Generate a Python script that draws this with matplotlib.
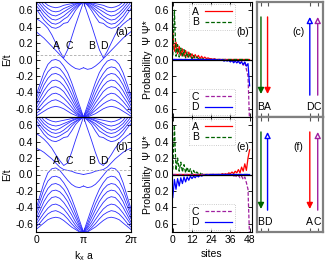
import numpy as np
import matplotlib
matplotlib.use('Agg')
import matplotlib.pyplot as plt
from matplotlib.ticker import MultipleLocator, FixedLocator, FuncFormatter

plt.rcParams['font.family'] = ['Liberation Sans', 'DejaVu Sans']
plt.rcParams['font.size'] = 7.5

# k_x a / pi on half of the zone (band structure is mirror symmetric about pi)
k_half = [0, 1/12, 2/12, 3/12, 4/12, 5/12, 6/12, 7/12, 8/12, 9/12, 10/12, 11/12, 1]

# panel (a) bands, E/t
bands_a = [
    [0.62, 0.55, 0.48, 0.43, 0.39, 0.38, 0.40, 0.44, 0.45, 0.52, 0.60, 0.66, 0.70],
    [0.66, 0.60, 0.53, 0.48, 0.44, 0.43, 0.45, 0.49, 0.52, 0.58, 0.63, 0.67, 0.70],
    [0.70, 0.64, 0.58, 0.53, 0.49, 0.48, 0.50, 0.53, 0.57, 0.61, 0.65, 0.68, 0.70],
    [0.74, 0.68, 0.62, 0.57, 0.54, 0.53, 0.55, 0.58, 0.61, 0.64, 0.67, 0.69, 0.70],
    [0.78, 0.72, 0.66, 0.62, 0.59, 0.58, 0.59, 0.62, 0.64, 0.66, 0.68, 0.69, 0.70],
    [0.82, 0.76, 0.70, 0.66, 0.64, 0.63, 0.64, 0.66, 0.67, 0.68, 0.69, 0.70, 0.70],
    [0.34, 0.30, 0.26, 0.21, 0.16, 0.11, 0.06, 0.01, -0.04, -0.08, -0.11, -0.12, -0.10],
    [0.50, 0.47, 0.43, 0.38, 0.30, 0.20, 0.10, 0.02, 0.12, 0.27, 0.42, 0.56, 0.70],
    [-0.44, -0.30, -0.16, -0.06, -0.01, 0.00, -0.02, -0.08, -0.16, -0.28, -0.42, -0.56, -0.70],
    [-0.48, -0.36, -0.24, -0.15, -0.10, -0.09, -0.11, -0.17, -0.25, -0.35, -0.48, -0.60, -0.70],
    [-0.52, -0.42, -0.31, -0.23, -0.18, -0.17, -0.19, -0.24, -0.32, -0.42, -0.53, -0.63, -0.70],
    [-0.56, -0.47, -0.38, -0.31, -0.26, -0.25, -0.27, -0.32, -0.39, -0.48, -0.57, -0.65, -0.70],
    [-0.60, -0.52, -0.45, -0.38, -0.34, -0.33, -0.35, -0.39, -0.46, -0.53, -0.61, -0.67, -0.70],
    [-0.63, -0.57, -0.51, -0.46, -0.42, -0.41, -0.43, -0.47, -0.52, -0.58, -0.64, -0.68, -0.70],
    [-0.66, -0.62, -0.57, -0.53, -0.50, -0.49, -0.51, -0.54, -0.58, -0.62, -0.66, -0.69, -0.70],
    [-0.69, -0.66, -0.63, -0.60, -0.58, -0.57, -0.58, -0.60, -0.63, -0.66, -0.68, -0.70, -0.70],
]

# panel (d) bands, E/t
bands_d = [
    [0.62, 0.56, 0.49, 0.44, 0.41, 0.40, 0.42, 0.45, 0.46, 0.53, 0.61, 0.66, 0.70],
    [0.66, 0.60, 0.54, 0.49, 0.46, 0.45, 0.47, 0.50, 0.53, 0.59, 0.64, 0.67, 0.70],
    [0.70, 0.64, 0.58, 0.54, 0.51, 0.50, 0.51, 0.54, 0.58, 0.62, 0.65, 0.68, 0.70],
    [0.74, 0.68, 0.62, 0.58, 0.55, 0.54, 0.56, 0.59, 0.62, 0.65, 0.67, 0.69, 0.70],
    [0.78, 0.72, 0.66, 0.62, 0.60, 0.59, 0.60, 0.62, 0.64, 0.66, 0.68, 0.69, 0.70],
    [0.82, 0.76, 0.70, 0.67, 0.65, 0.64, 0.65, 0.66, 0.67, 0.68, 0.69, 0.70, 0.70],
    [0.50, 0.47, 0.43, 0.38, 0.32, 0.24, 0.17, 0.11, 0.14, 0.27, 0.42, 0.56, 0.70],
    [0.32, 0.30, 0.27, 0.23, 0.19, 0.14, 0.09, 0.06, 0.05, 0.04, 0.02, 0.01, 0.00],
    [-0.42, -0.26, -0.10, 0.02, 0.07, 0.08, 0.05, -0.01, -0.07, -0.12, -0.15, -0.16, -0.14],
    [-0.46, -0.32, -0.18, -0.08, -0.03, -0.02, -0.04, -0.10, -0.18, -0.29, -0.42, -0.56, -0.70],
    [-0.50, -0.38, -0.26, -0.17, -0.12, -0.11, -0.13, -0.18, -0.26, -0.36, -0.48, -0.60, -0.70],
    [-0.54, -0.44, -0.33, -0.25, -0.20, -0.19, -0.21, -0.26, -0.33, -0.43, -0.53, -0.63, -0.70],
    [-0.58, -0.49, -0.40, -0.33, -0.28, -0.27, -0.29, -0.34, -0.41, -0.49, -0.58, -0.65, -0.70],
    [-0.61, -0.54, -0.47, -0.41, -0.37, -0.36, -0.38, -0.42, -0.48, -0.55, -0.62, -0.67, -0.70],
    [-0.64, -0.59, -0.53, -0.48, -0.45, -0.44, -0.46, -0.49, -0.54, -0.60, -0.65, -0.69, -0.70],
    [-0.67, -0.63, -0.59, -0.55, -0.53, -0.52, -0.53, -0.56, -0.60, -0.64, -0.67, -0.70, -0.70],
]

fermi = 0.05

# probability |psi|^2 on 49 sites (lower states drawn downward)
sites = list(range(49))
b_A = [0.33, 0.10, 0.21, 0.07, 0.16, 0.05, 0.13, 0.04, 0.11, 0.03, 0.09, 0.03, 0.07, 0.02, 0.06, 0.02,
       0.05, 0.01, 0.04, 0.01, 0.03, 0.01, 0.02, 0.01, 0.01, 0.0, 0.01, 0.0, 0.0, 0.0, 0.0, 0.0, 0.0,
       0.0, 0.0, 0.0, 0.0, 0.0, 0.0, 0.0, 0.0, 0.0, 0.0, 0.0, 0.0, 0.0, 0.0, 0.0, 0.0]
b_B = [0.05, 0.60, 0.04, 0.18, 0.03, 0.14, 0.03, 0.12, 0.02, 0.09, 0.02, 0.07, 0.01, 0.05, 0.01, 0.03,
       0.01, 0.02, 0.0, 0.01, 0.0, 0.0, 0.0, 0.0, 0.0, 0.0, 0.0, 0.0, 0.0, 0.0, 0.0, 0.0, 0.0,
       0.0, 0.0, 0.0, 0.0, 0.0, 0.0, 0.0, 0.0, 0.0, 0.0, 0.0, 0.0, 0.0, 0.0, 0.0, 0.0]
b_C = [0.0, 0.0, 0.0, 0.0, 0.0, 0.0, 0.0, 0.0, 0.0, 0.0, 0.0, 0.0, 0.0, 0.0, 0.0, 0.0,
       0.0, 0.0, 0.0, 0.0, 0.0, 0.0, 0.0, 0.0, 0.0, 0.0, 0.0, 0.0, 0.0, 0.0, 0.0, 0.0, 0.01,
       0.0, 0.01, 0.01, 0.02, 0.01, 0.03, 0.01, 0.04, 0.02, 0.05, 0.02, 0.07, 0.03, 0.12, 0.20, 0.78]
b_D = [0.0, 0.0, 0.0, 0.0, 0.0, 0.0, 0.0, 0.0, 0.0, 0.0, 0.0, 0.0, 0.0, 0.0, 0.0, 0.0,
       0.0, 0.0, 0.0, 0.0, 0.0, 0.0, 0.0, 0.0, 0.0, 0.0, 0.0, 0.0, 0.01, 0.0, 0.01, 0.0, 0.02,
       0.01, 0.02, 0.01, 0.03, 0.01, 0.04, 0.02, 0.04, 0.02, 0.05, 0.03, 0.06, 0.03, 0.08, 0.05, 0.32]

e_A = [0.0, 0.0, 0.0, 0.0, 0.0, 0.0, 0.0, 0.0, 0.0, 0.0, 0.0, 0.0, 0.0, 0.0, 0.0, 0.0,
       0.0, 0.0, 0.0, 0.0, 0.0, 0.0, 0.0, 0.0, 0.0, 0.0, 0.0, 0.0, 0.0, 0.0, 0.0, 0.01, 0.0,
       0.01, 0.0, 0.02, 0.01, 0.03, 0.01, 0.04, 0.02, 0.06, 0.02, 0.09, 0.04, 0.13, 0.05, 0.20, 0.30]
e_B = [0.06, 0.60, 0.05, 0.20, 0.04, 0.15, 0.03, 0.12, 0.02, 0.09, 0.02, 0.07, 0.01, 0.05, 0.01, 0.03,
       0.01, 0.02, 0.0, 0.01, 0.0, 0.0, 0.0, 0.0, 0.0, 0.0, 0.0, 0.0, 0.0, 0.0, 0.0, 0.0, 0.0,
       0.0, 0.0, 0.0, 0.0, 0.0, 0.0, 0.0, 0.0, 0.0, 0.0, 0.0, 0.0, 0.0, 0.0, 0.0, 0.0]
e_C = [0.0, 0.0, 0.0, 0.0, 0.0, 0.0, 0.0, 0.0, 0.0, 0.0, 0.0, 0.0, 0.0, 0.0, 0.0, 0.0,
       0.0, 0.0, 0.0, 0.0, 0.0, 0.0, 0.0, 0.0, 0.0, 0.0, 0.0, 0.0, 0.0, 0.0, 0.0, 0.0, 0.0,
       0.0, 0.0, 0.0, 0.01, 0.0, 0.02, 0.01, 0.03, 0.01, 0.04, 0.02, 0.06, 0.03, 0.10, 0.18, 0.78]
e_D = [0.28, 0.06, 0.18, 0.05, 0.14, 0.04, 0.11, 0.03, 0.09, 0.03, 0.07, 0.02, 0.05, 0.02, 0.04, 0.01,
       0.03, 0.01, 0.02, 0.01, 0.01, 0.0, 0.01, 0.0, 0.0, 0.0, 0.0, 0.0, 0.0, 0.0, 0.0, 0.0, 0.0,
       0.0, 0.0, 0.0, 0.0, 0.0, 0.0, 0.0, 0.0, 0.0, 0.0, 0.0, 0.0, 0.0, 0.0, 0.0, 0.0]

red = '#ff0000'
green = '#006400'
blue = '#0000ff'
purple = '#a020a0'

W, H = 325, 267
fig = plt.figure(figsize=(W / 100, H / 100), dpi=100)


def box(x0, y0, x1, y1):
    return [x0 / W, 1 - y1 / H, (x1 - x0) / W, (y1 - y0) / H]


def band_panel(ax, bands, label, show_x):
    k = np.array(k_half)
    for b in bands:
        ax.plot(k * np.pi, b, color='#2a2aff', lw=0.6)
        ax.plot((2 - k) * np.pi, b, color='#2a2aff', lw=0.6)
    ax.axhline(fermi, color='#aaaaaa', lw=0.6, dashes=(3, 2))
    ax.set_xlim(0, 2 * np.pi)
    ax.set_ylim(-0.7, 0.7)
    ax.yaxis.set_major_locator(FixedLocator([-0.6, -0.4, -0.2, 0.0, 0.2, 0.4, 0.6]))
    ax.yaxis.set_minor_locator(MultipleLocator(0.1))
    ax.set_yticklabels(['-0.6', '-0.4', '-0.2', '0.0', '0.2', '0.4', '0.6'])
    ax.set_xticks([0, np.pi, 2 * np.pi])
    if show_x:
        ax.set_xticklabels(['0', 'π', '2π'])
    else:
        ax.set_xticklabels([])
    ax.tick_params(direction='in', which='both', top=True, right=True, length=3, width=0.6, pad=2)
    ax.tick_params(which='minor', length=1.8)
    ax.set_ylabel('E/t', labelpad=2)
    ax.text(0.97, 0.74, label, transform=ax.transAxes, ha='right', va='center')
    for t, xx in zip(['A', 'C', 'B', 'D'], [0.42, 0.69, 1.16, 1.42]):
        ax.text(xx * np.pi, 0.17, t, ha='center', va='center')


def prob_panel(ax, up, down, label):
    ax.plot(sites, up[0], color=red, lw=0.9)
    ax.plot(sites, up[1], color=green, lw=0.9, dashes=(3, 1.5))
    ax.plot(sites, [-v for v in down[0]], color=purple, lw=0.9, dashes=(3, 1.5))
    ax.plot(sites, [-v for v in down[1]], color=blue, lw=0.9)
    ax.axhline(0, color='black', lw=0.9)
    ax.set_xlim(-0.5, 49.5)
    ax.set_ylim(-0.7, 0.7)
    ax.set_xticks([0, 12, 24, 36, 48])
    ax.set_yticks([-0.6, -0.4, -0.2, 0, 0.2, 0.4, 0.6])
    ax.yaxis.set_major_formatter(FuncFormatter(lambda v, p: '%.1f' % abs(v)))
    ax.tick_params(direction='in', top=True, right=True, length=3, width=0.6, pad=2)
    ax.text(0.96, 0.74, label, transform=ax.transAxes, ha='right', va='center')
    ax.text(-0.3, 0.5, 'Probability  Ψ Ψ*', transform=ax.transAxes, rotation=90,
            ha='center', va='center')
    kw = dict(fontsize=7.5, frameon=True, handlelength=2.6, handletextpad=0.6, borderpad=0.25,
              labelspacing=0.05, fancybox=False, markerfirst=False, borderaxespad=0.2)
    leg1 = ax.legend(ax.lines[:2], up[2], loc='upper center', bbox_to_anchor=(0.5, 1.0), **kw)
    leg1.get_frame().set_edgecolor('#aaaaaa')
    leg1.get_frame().set_linestyle(':')
    leg1.get_frame().set_linewidth(0.6)
    ax.add_artist(leg1)
    leg2 = ax.legend(ax.lines[2:4], down[2], loc='lower center', bbox_to_anchor=(0.5, 0.0), **kw)
    leg2.get_frame().set_edgecolor('#aaaaaa')
    leg2.get_frame().set_linestyle(':')
    leg2.get_frame().set_linewidth(0.6)


def spin_panel(ax, arrows, label):
    ax.set_xlim(0, 1)
    ax.set_ylim(0, 1)
    xs = [a[0] for a in arrows]
    ax.set_xticks(xs)
    ax.set_xticklabels([])
    ax.set_yticks([])
    ax.tick_params(direction='in', top=True, length=3, width=0.8, color='#555555')
    for s in ax.spines.values():
        s.set_color('#808080')
        s.set_linewidth(1.6)
    for x, name, col, down in arrows:
        if down:
            ax.annotate('', xy=(x, 0.2), xytext=(x, 0.87),
                        arrowprops=dict(arrowstyle='-|>', color=col, lw=1.0, mutation_scale=9,
                                        shrinkA=0, shrinkB=0))
        else:
            ax.annotate('', xy=(x, 0.87), xytext=(x, 0.19),
                        arrowprops=dict(arrowstyle='-|>', ec=col, fc='white', lw=1.0,
                                        mutation_scale=9, shrinkA=0, shrinkB=0))
        ax.text(x, 0.09, name, ha='center', va='center')
    ax.text(0.63, 0.74, label, ha='center', va='center')


ax_a = fig.add_axes(box(36, 2, 131, 117))
band_panel(ax_a, bands_a, '(a)', False)
ax_d = fig.add_axes(box(36, 117, 131, 232))
band_panel(ax_d, bands_d, '(d)', True)
ax_d.set_xlabel('k$_\\mathregular{x}$ a', labelpad=3)

ax_b = fig.add_axes(box(172, 2, 252, 117))
prob_panel(ax_b, (b_A, b_B, ['A', 'B']), (b_C, b_D, ['C', 'D']), '(b)')
ax_b.set_xticklabels([])
ax_e = fig.add_axes(box(172, 117, 252, 232))
prob_panel(ax_e, (e_A, e_B, ['A', 'B']), (e_C, e_D, ['C', 'D']), '(e)')
ax_e.set_xlabel('sites', labelpad=3)

ax_c = fig.add_axes(box(257, 2, 323, 117))
spin_panel(ax_c, [(0.06, 'B', green, True), (0.16, 'A', red, True),
                  (0.80, 'D', blue, False), (0.92, 'C', purple, False)], '(c)')
ax_f = fig.add_axes(box(257, 117, 323, 232))
spin_panel(ax_f, [(0.06, 'B', green, True), (0.16, 'D', blue, False),
                  (0.80, 'A', red, True), (0.92, 'C', purple, False)], '(f)')

fig.savefig('out.png', dpi=100)
